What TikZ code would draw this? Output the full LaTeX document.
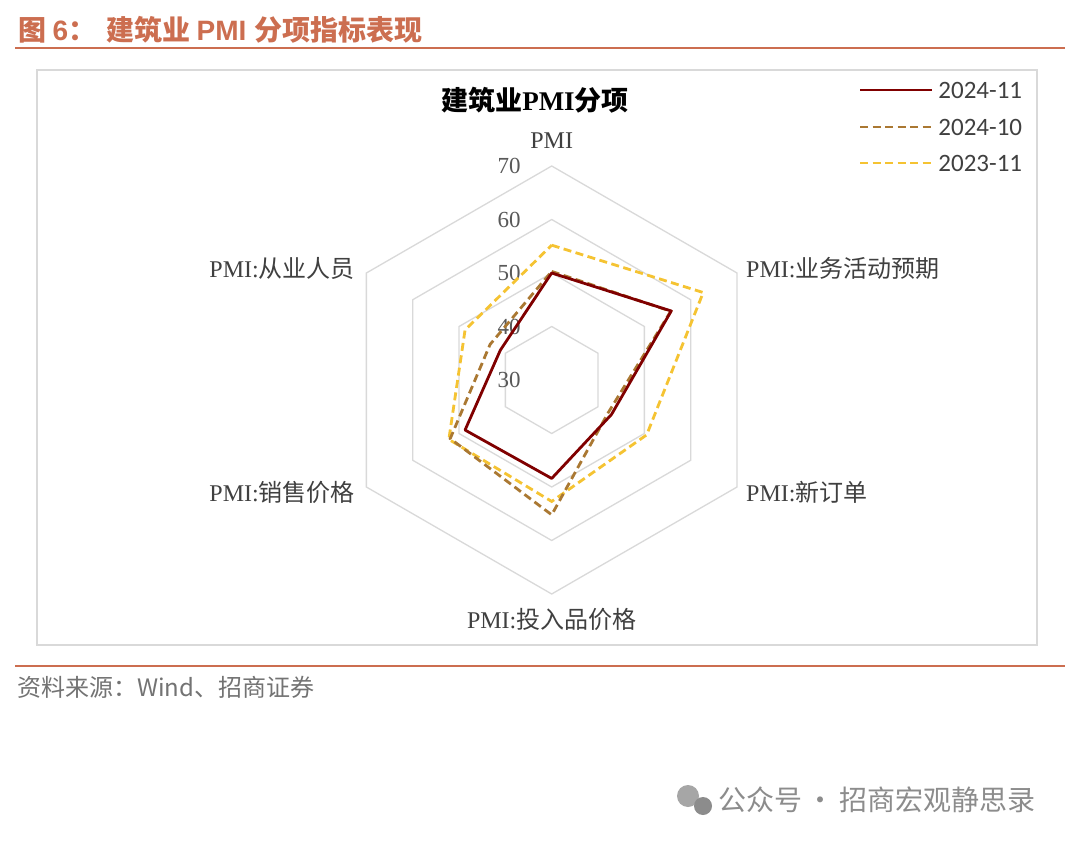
\documentclass[tikz,border=0pt]{standalone}
\usepackage{fontspec}
\setmainfont{Liberation Serif}
\newfontfamily\cjk{Noto Sans CJK SC}
\newfontfamily\lat{Carlito}
\newfontfamily\hei{Liberation Sans}
\usetikzlibrary{positioning,calc}
\definecolor{cmsorange}{RGB}{204,110,80}
\definecolor{gridgray}{RGB}{217,217,217}
\definecolor{darkred}{RGB}{128,0,0}
\definecolor{brownish}{RGB}{170,120,50}
\definecolor{goldish}{RGB}{245,195,50}
\tikzset{
  radarlbl/.style={font=\fontsize{24}{24}\selectfont, text=black!75, inner sep=1pt},
  ticklbl/.style={font=\fontsize{23}{23}\selectfont, text=black!65, anchor=east, inner sep=1pt},
  legendtxt/.style={font=\lat\fontsize{25}{25}\selectfont, text=black!75, anchor=west, inner sep=1pt},
  series24/.style={darkred, line width=2.8pt, line join=round},
  series2410/.style={brownish, line width=2.8pt, dash pattern=on 8pt off 4.5pt},
  series23/.style={goldish, line width=2.8pt, dash pattern=on 8pt off 4.5pt},
}
% radius in px for a value, centre at (551.7,380); screen angles (y down)
\newcommand{\rv}[1]{(#1-30)*5.35}
\begin{document}
\begin{tikzpicture}[x=1pt,y=1pt,yscale=-1]
\useasboundingbox (0,0) rectangle (1080,843);
\fill[white] (0,0) rectangle (1080,843);
% header
\node[anchor=west, inner sep=0pt, text=cmsorange, font=\bfseries\fontsize{28}{28}\selectfont] (title) at (18,30)
  {\cjk 图 \hei\bfseries 6\cjk：\hspace{10pt}建筑业 \hei\bfseries PMI \cjk 分项指标表现};
\draw[cmsorange, line width=2pt] (15,48) -- (1065,48);
\draw[gridgray, line width=1.2pt] (37,70) rectangle (1037,645);
\draw[cmsorange, line width=2.5pt] (15,666) -- (1065,666);
\node[anchor=west, inner sep=0pt, text=black!55, font=\cjk\fontsize{24}{24}\selectfont] (src) at (17,687) {资料来源：Wind、招商证券};
% watermark
\fill[black!35] (688,796) circle (11);
\fill[black!45] (703,806) circle (9);
\node[anchor=west, inner sep=0pt, text=black!45, font=\cjk\fontsize{28}{28}\selectfont] (wm) at (718,800) {公众号\,·\,招商宏观静思录};
% chart title
\node[font=\cjk\bfseries\fontsize{27}{27}\selectfont, text=black] (ctitle) at (535,100) {建筑业\textrm{\bfseries PMI}分项};
% rings
\coordinate (c) at (551.7,380);
\foreach \v in {40,50,60,70}
  \draw[gridgray, line width=1.3pt] ($(c)+(-90:{\rv{\v}})$) \foreach \a in {-30,30,90,150,-150} { -- ($(c)+(\a:{\rv{\v}})$) } -- cycle;
\foreach \v in {30,40,50,60,70}
  \node[ticklbl] at ($(c)+(-30,{-\rv{\v}})$) {\v};
% axis labels
\node[radarlbl, anchor=south] (pmi) at (551.7,150) {PMI};
\node[radarlbl, anchor=west] (yw) at (745,268) {PMI:\cjk 业务活动预期};
\node[radarlbl, anchor=west] (xd) at (745,492) {PMI:\cjk 新订单};
\node[radarlbl, anchor=north] (tr) at (551.7,607) {PMI:\cjk 投入品价格};
\node[radarlbl, anchor=east] (xs) at (356,492) {PMI:\cjk 销售价格};
\node[radarlbl, anchor=east] (cy) at (356,268) {PMI:\cjk 从业人员};
% series
\draw[series23] ($(c)+(-90:{\rv{55.2}})$) -- ($(c)+(-30:{\rv{62.7}})$) -- ($(c)+(30:{\rv{50.5}})$)
  -- ($(c)+(90:{\rv{52.7}})$) -- ($(c)+(150:{\rv{52.2}})$) -- ($(c)+(-150:{\rv{48.7}})$) -- cycle;
\draw[series2410] ($(c)+(-90:{\rv{50.3}})$) -- ($(c)+(-30:{\rv{55.7}})$) -- ($(c)+(30:{\rv{42.2}})$)
  -- ($(c)+(90:{\rv{55.2}})$) -- ($(c)+(150:{\rv{51.9}})$) -- ($(c)+(-150:{\rv{43.3}})$) -- cycle;
\draw[series24] ($(c)+(-90:{\rv{50.0}})$) -- ($(c)+(-30:{\rv{55.8}})$) -- ($(c)+(30:{\rv{42.9}})$)
  -- ($(c)+(90:{\rv{48.4}})$) -- ($(c)+(150:{\rv{48.7}})$) -- ($(c)+(-150:{\rv{41.1}})$) -- cycle;
% legend
\coordinate (l1) at (860,90);
\coordinate (l2) at (860,127);
\coordinate (l3) at (860,163);
\draw[series24] (l1) -- ++(72,0) node[legendtxt, right=4pt] (t1) {2024-11};
\draw[series2410] (l2) -- ++(72,0) node[legendtxt, right=4pt] (t2) {2024-10};
\draw[series23] (l3) -- ++(72,0) node[legendtxt, right=4pt] (t3) {2023-11};
\end{tikzpicture}
\end{document}
